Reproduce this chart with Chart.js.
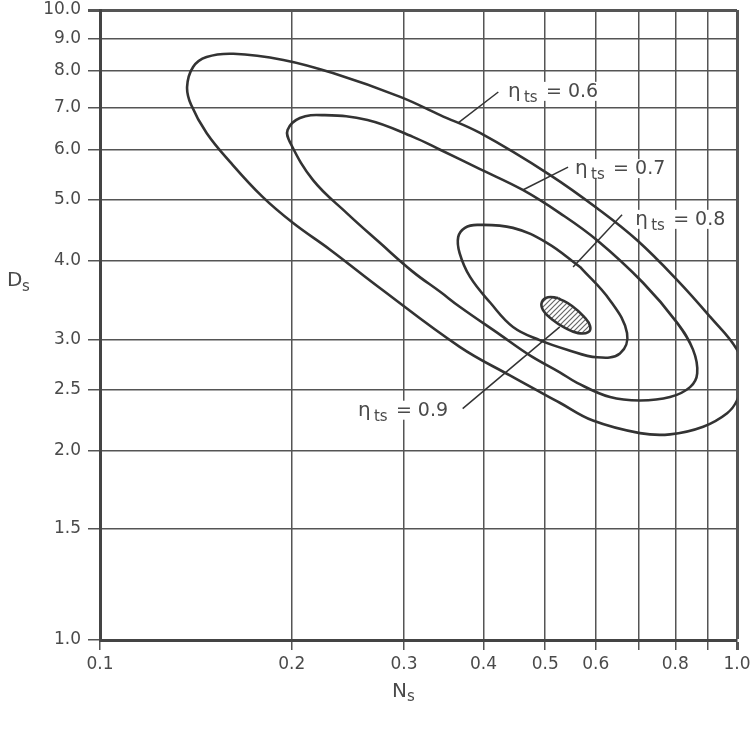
<!DOCTYPE html>
<html>
<head>
<meta charset="utf-8">
<script src="https://cdn.jsdelivr.net/npm/chart.js@4/dist/chart.umd.min.js"></script>
<style>
  body { margin: 0; background: #fff; }
</style>
</head>
<body>
<canvas id="effChart" width="754" height="730"></canvas>
<script>
// axis ticks (log-log)
const xTicks = [0.1, 0.2, 0.3, 0.4, 0.5, 0.6, 0.7, 0.8, 0.9, 1.0];
const xTickLabels = ['0.1', '0.2', '0.3', '0.4', '0.5', '0.6', '', '0.8', '', '1.0'];
const yTicks = [1.0, 1.5, 2.0, 2.5, 3.0, 4.0, 5.0, 6.0, 7.0, 8.0, 9.0, 10.0];
const yTickLabels = ['1.0', '1.5', '2.0', '2.5', '3.0', '4.0', '5.0', '6.0', '7.0', '8.0', '9.0', '10.0'];

// contour eta_ts = 0.6 (runs past Ns = 1.0, gets clipped there)
const eta06Ns = [1.029, 1.0, 0.907, 0.805, 0.697, 0.609, 0.509, 0.395, 0.342, 0.296, 0.232, 0.194, 0.162, 0.147, 0.140, 0.137,
                 0.139, 0.147, 0.160, 0.180, 0.201, 0.230, 0.275, 0.367, 0.440, 0.527, 0.594, 0.704, 0.785, 0.885, 0.965, 1.0, 1.029];
const eta06Ds = [2.63, 2.89, 3.26, 3.73, 4.31, 4.81, 5.47, 6.38, 6.81, 7.28, 7.94, 8.33, 8.52, 8.42, 8.12, 7.55,
                 7.07, 6.38, 5.74, 5.05, 4.59, 4.16, 3.62, 2.92, 2.63, 2.38, 2.23, 2.13, 2.12, 2.18, 2.29, 2.40, 2.63];

// contour eta_ts = 0.7
const eta07Ns = [0.395, 0.342, 0.310, 0.263, 0.224, 0.206, 0.197, 0.199, 0.216, 0.244, 0.275, 0.310, 0.342, 0.367, 0.425,
                 0.473, 0.527, 0.561, 0.632, 0.704, 0.785, 0.844, 0.866, 0.853, 0.805, 0.712, 0.603, 0.527, 0.461, 0.395];
const eta07Ds = [5.59, 6.00, 6.29, 6.69, 6.81, 6.74, 6.45, 6.15, 5.37, 4.76, 4.27, 3.84, 3.57, 3.38, 3.05,
                 2.83, 2.66, 2.56, 2.43, 2.40, 2.43, 2.52, 2.65, 2.89, 3.19, 3.69, 4.31, 4.76, 5.18, 5.59];

// contour eta_ts = 0.8
const eta08Ns = [0.567, 0.503, 0.445, 0.391, 0.374, 0.365, 0.367, 0.381, 0.410, 0.445, 0.491, 0.541, 0.603, 0.655, 0.672, 0.632, 0.567];
const eta08Ds = [3.91, 4.27, 4.51, 4.56, 4.51, 4.36, 4.11, 3.77, 3.43, 3.14, 2.99, 2.89, 2.81, 2.85, 3.07, 3.46, 3.91];

// contour eta_ts = 0.9 (small hatched island)
const eta09Ns = [0.524, 0.505, 0.494, 0.496, 0.512, 0.537, 0.563, 0.584, 0.588, 0.575, 0.551, 0.524];
const eta09Ds = [3.49, 3.50, 3.44, 3.34, 3.23, 3.13, 3.07, 3.08, 3.15, 3.26, 3.39, 3.49];

// leader lines: [curve end, label end]
const leaderNs = [[0.365, 0.422], [0.461, 0.543], [0.553, 0.660], [0.527, 0.371]];
const leaderDs = [[6.62, 7.41], [5.18, 5.63], [3.91, 4.73], [3.14, 2.33]];

// labels (left/baseline anchor)
const labelText = ['0.6', '0.7', '0.8', '0.9'];
const labelNs = [0.437, 0.557, 0.692, 0.254];
const labelDs = [7.28, 5.49, 4.56, 2.27];

const ink = '#333';
const gridInk = '#555';
const textInk = '#4a4a4a';
const tickFont = { family: '"DejaVu Sans"', size: 17 };

const toPts = (xs, ys) => xs.map((v, i) => ({ x: v, y: ys[i] }));

const canvas = document.getElementById('effChart');

// hatch fill for the 0.9 island
function makeHatch(ctx) {
    const c = document.createElement('canvas');
    c.width = 5; c.height = 5;
    const g = c.getContext('2d');
    g.fillStyle = '#fff';
    g.fillRect(0, 0, 5, 5);
    g.strokeStyle = '#666';
    g.lineWidth = 1.2;
    g.beginPath();
    g.moveTo(0, 5); g.lineTo(5, 0);
    g.moveTo(-1, 1); g.lineTo(1, -1);
    g.moveTo(4, 6); g.lineTo(6, 4);
    g.stroke();
    return ctx.createPattern(c, 'repeat');
}

const contour = (xs, ys, extra = {}) => Object.assign({
    data: toPts(xs, ys),
    showLine: true,
    borderColor: ink,
    borderWidth: 2.6,
    pointRadius: 0,
    tension: 0.4,
    fill: false
}, extra);

const datasets = [
    contour(eta06Ns, eta06Ds),
    contour(eta07Ns, eta07Ds),
    contour(eta08Ns, eta08Ds),
    contour(eta09Ns, eta09Ds, { fill: 'shape', backgroundColor: makeHatch(canvas.getContext('2d')), tension: 0.45 })
];
leaderNs.forEach((xs, i) => {
    datasets.push({
        data: toPts(xs, leaderDs[i]),
        showLine: true,
        borderColor: ink,
        borderWidth: 1.5,
        pointRadius: 0,
        tension: 0,
        fill: false
    });
});

// text: contour labels with subscript, axis titles
const annotate = {
    id: 'annotate',
    beforeDatasetsDraw(chart) {
        const { ctx, scales: { x, y } } = chart;
        ctx.save();
        ctx.fillStyle = '#fff';
        labelText.forEach((t, i) => {
            const px = x.getPixelForValue(labelNs[i]);
            const py = y.getPixelForValue(labelDs[i]);
            ctx.fillRect(px - 3, py - 15, 98, 19);
        });
        ctx.restore();
    },
    afterDatasetsDraw(chart) {
        const { ctx, scales: { x, y } } = chart;
        ctx.save();
        ctx.fillStyle = textInk;
        ctx.textAlign = 'left';
        ctx.textBaseline = 'alphabetic';
        labelText.forEach((t, i) => {
            const px = x.getPixelForValue(labelNs[i]);
            const py = y.getPixelForValue(labelDs[i]);
            ctx.font = '20px "DejaVu Sans"';
            ctx.fillText('η', px, py);
            ctx.font = '15px "DejaVu Sans"';
            ctx.fillText('ts', px + 16, py + 5);
            ctx.font = '19px "DejaVu Sans"';
            ctx.fillText('= ' + t, px + 38, py);
        });
        ctx.restore();
    },
    afterDraw(chart) {
        const { ctx } = chart;
        ctx.save();
        ctx.fillStyle = textInk;
        ctx.textAlign = 'left';
        ctx.textBaseline = 'alphabetic';
        ctx.font = '20px "DejaVu Sans"';
        ctx.fillText('D', 7, 286);
        ctx.fillText('N', 392, 697);
        ctx.font = '15px "DejaVu Sans"';
        ctx.fillText('s', 22, 291);
        ctx.fillText('s', 407, 701);
        ctx.restore();
    }
};

new Chart(canvas, {
    type: 'scatter',
    data: { datasets },
    options: {
        responsive: false,
        animation: false,
        layout: { padding: { top: 10, right: 17, left: 0, bottom: 0 } },
        elements: { line: { capBezierPoints: false } },
        plugins: { legend: { display: false }, tooltip: { enabled: false } },
        scales: {
            x: {
                type: 'logarithmic',
                min: 0.1,
                max: 1.0,
                afterBuildTicks: (s) => { s.ticks = xTicks.map(v => ({ value: v })); },
                afterFit: (s) => { s.height = 90; s.paddingLeft = 0; s.paddingRight = 0; },
                ticks: {
                    autoSkip: false,
                    maxRotation: 0,
                    padding: 4,
                    color: textInk,
                    font: tickFont,
                    callback: (v, i) => xTickLabels[i]
                },
                grid: {
                    color: gridInk,
                    lineWidth: (c) => (c.tick && c.tick.value === 1.0 ? 3 : 1.5),
                    tickLength: 10
                },
                border: { display: true, color: '#444', width: 3 }
            },
            y: {
                type: 'logarithmic',
                min: 1.0,
                max: 10.0,
                afterBuildTicks: (s) => { s.ticks = yTicks.map(v => ({ value: v })); },
                afterFit: (s) => { s.width = 100; s.paddingTop = 0; s.paddingBottom = 0; },
                ticks: {
                    autoSkip: false,
                    padding: 7,
                    color: textInk,
                    font: tickFont,
                    callback: (v, i) => yTickLabels[i]
                },
                grid: {
                    color: gridInk,
                    lineWidth: (c) => (c.tick && c.tick.value === 10.0 ? 3 : 1.5),
                    tickLength: 12
                },
                border: { display: true, color: '#444', width: 3 }
            }
        }
    },
    plugins: [annotate]
});
</script>
</body>
</html>
